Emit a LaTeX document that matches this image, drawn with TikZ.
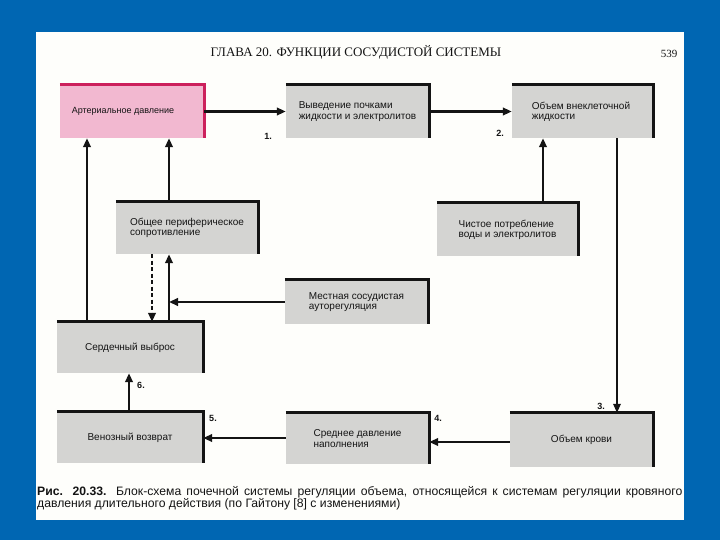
\documentclass[tikz,border=0pt]{standalone}
\usepackage{fontspec}
\setmainfont{Liberation Sans}
\newfontfamily\titlefont{Liberation Serif}
\usetikzlibrary{arrows.meta}
\definecolor{slideblue}{RGB}{0,102,178}
\definecolor{boxgrey}{RGB}{212,212,210}
\definecolor{pinkfill}{RGB}{242,184,208}
\definecolor{pinkedge}{RGB}{204,32,92}
\definecolor{paper}{RGB}{254,254,251}
\definecolor{ink}{RGB}{20,20,20}
\begin{document}
\begin{tikzpicture}[x=1pt,y=-1pt,
  box/.style={rectangle, fill=boxgrey, align=left, inner sep=0pt, text=ink,
    font=\fontsize{10}{10.2}\selectfont},
  arr/.style={line width=2.3pt, draw=ink, -{Triangle[length=9pt,width=7.5pt]}},
  thinarr/.style={line width=1.7pt, draw=ink, -{Triangle[length=9pt,width=7.5pt]}},
  boxedge/.style={line width=3pt, draw=ink, line join=miter},
  num/.style={font=\fontsize{9}{9}\selectfont\bfseries, inner sep=0pt, text=ink}]
\useasboundingbox (0,0) rectangle (720,540);
\fill[slideblue] (0,0) rectangle (720,540);
\fill[paper] (36,32) rectangle (684,520);

% header
\node[font=\titlefont\fontsize{13}{13}\selectfont, text=ink, inner sep=0pt] (title) at (356,52) {ГЛАВА 20. ФУНКЦИИ СОСУДИСТОЙ СИСТЕМЫ};
\node[font=\titlefont\fontsize{11}{11}\selectfont, text=ink, inner sep=0pt] (page) at (669,54) {539};

% boxes
\node[box, fill=pinkfill, font=\fontsize{9}{9.6}\selectfont, minimum width=144pt, minimum height=53pt] (b1) at (132,111.5) {Артериальное давление\hspace*{18pt}};
\node[box, minimum width=143pt, minimum height=53pt] (b2) at (357.5,111.5) {Выведение почками\\жидкости и электролитов};
\node[box, minimum width=141pt, minimum height=53pt] (b3) at (582.5,111.5) {Объем внеклеточной\\жидкости\hspace*{58pt}};
\node[box, minimum width=142pt, minimum height=52pt] (b4) at (187,228) {Общее периферическое\\сопротивление};
\node[box, minimum width=141pt, minimum height=53pt] (b5) at (507.5,229.5) {Чистое потребление\\воды и электролитов};
\node[box, minimum width=143pt, minimum height=44pt] (b6) at (356.5,302) {Местная сосудистая\\ауторегуляция};
\node[box, minimum width=146pt, minimum height=51pt] (b7) at (130,347.5) {Сердечный выброс};
\node[box, minimum width=146pt, minimum height=51pt] (b8) at (130,437.5) {Венозный возврат};
\node[box, minimum width=143pt, minimum height=51pt] (b9) at (357.5,438.5) {Среднее давление\\наполнения};
\node[box, minimum width=143pt, minimum height=54pt] (b10) at (581.5,440) {Объем крови};

% thick top/right edges
\draw[boxedge, draw=pinkedge] (b1.north west) -- (b1.north east) -- (b1.south east);
\foreach \b in {b2,b3,b4,b5,b6,b7,b8,b9,b10}
  \draw[boxedge] (\b.north west) -- (\b.north east) -- (\b.south east);

% helper positions
\coordinate (x87) at (87,0);
\coordinate (x129) at (129,0);
\coordinate (x152) at (152,0);
\coordinate (x169) at (169,0);
\coordinate (x543) at (543,0);
\coordinate (x617) at (617,0);
\coordinate (y438) at (0,438);
\coordinate (y442) at (0,442);
\coordinate (j6) at (169,302);

% connectors
\draw[arr] (b1) -- (b2);
\draw[arr] (b2) -- (b3);
\draw[thinarr] (x617 |- b3.south) -- (x617 |- b10.north);
\draw[arr] (b10.west |- y442) -- (b9.east |- y442);
\draw[arr] (b9.west |- y438) -- (b8.east |- y438);
\draw[arr] (x129 |- b8.north) -- (x129 |- b7.south);
\draw[arr] (x87 |- b7.north) -- (x87 |- b1.south);
\draw[arr] (x169 |- b4.north) -- (x169 |- b1.south);
\draw[arr] (x543 |- b5.north) -- (x543 |- b3.south);
\draw[arr] (x169 |- b7.north) -- (x169 |- b4.south);
\draw[arr, dash pattern=on 4pt off 2.5pt] (x152 |- b4.south) -- (x152 |- b7.north);
\draw[arr] (b6.west) -- (j6);

% step numbers
\node[num] (n1) at (268,136) {1.};
\node[num] (n2) at (500,133) {2.};
\node[num] (n3) at (601,406) {3.};
\node[num] (n4) at (438,418) {4.};
\node[num] (n5) at (213,418) {5.};
\node[num] (n6) at (141,385) {6.};

% caption
\node[anchor=north west, text width=645pt, align=justify, inner sep=0pt, text=ink,
  font=\fontsize{12.2}{11.5}\selectfont] (cap) at (37,486)
  {\textbf{Рис. 20.33.} Блок-схема почечной системы регуляции объема, относящейся к системам регуляции кровяного\linebreak давления длительного действия (по Гайтону [8] с изменениями)};
\end{tikzpicture}
\end{document}
